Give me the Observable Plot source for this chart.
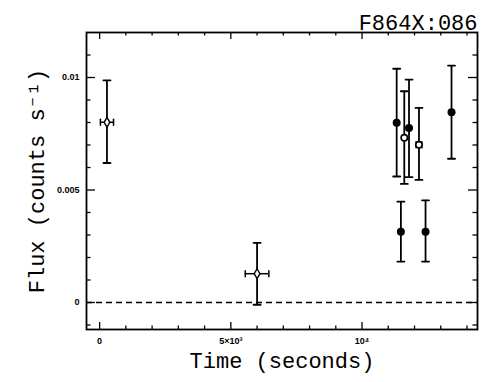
<!DOCTYPE html>
<html>
<head>
<meta charset="utf-8">
<script src="https://cdn.jsdelivr.net/npm/d3@7"></script>
<script src="https://cdn.jsdelivr.net/npm/@observablehq/plot@0.6"></script>
<style>
  html, body { margin: 0; padding: 0; background: #fff; }
</style>
</head>
<body>
<div id="chart"></div>
<script>
// ---- data ----
const title = "F864X:086";
const time      = [280, 6000, 11320, 11610, 11790, 12170, 13410, 11480, 12420];
const timeErr   = [250, 450, 0, 0, 0, 110, 0, 0, 0];
const flux      = [0.00801, 0.00128, 0.00799, 0.00732, 0.00776, 0.00701, 0.00846, 0.00314, 0.00314];
const fluxLo    = [0.00620, -0.00010, 0.00560, 0.00527, 0.00557, 0.00545, 0.00639, 0.00182, 0.00182];
const fluxHi    = [0.00987, 0.00265, 0.01039, 0.00939, 0.00991, 0.00865, 0.01053, 0.00448, 0.00454];
const marker    = ["diamond", "diamond", "filled", "open", "filled", "open", "filled", "filled", "filled"];

const xMajorTicks = [0, 5000, 10000];
const xTickLabels = ["0", "5×10³", "10⁴"];
const xMinorTicks = [1000, 2000, 3000, 4000, 6000, 7000, 8000, 9000, 11000, 12000, 13000, 14000];
const yMajorTicks = [0, 0.005, 0.01];
const yTickLabels = ["0", "0.005", "0.01"];
const yMinorTicks = [-0.001, 0.001, 0.002, 0.003, 0.004, 0.006, 0.007, 0.008, 0.009, 0.011];
const xDomain = [-500, 14400];
const yDomain = [-0.0012, 0.012];
const xLabel = "Time (seconds)";
const yLabel = "Flux (counts s⁻¹)";

// ---- table built from arrays ----
const data = time.map((t, i) => ({
  t, te: timeErr[i], f: flux[i], lo: fluxLo[i], hi: fluxHi[i], m: marker[i]
}));
const xerr = data.filter(d => d.te > 0);

const W = 484, H = 382;
const mL = 86, mR = 7, mT = 32, mB = 53;
const pW = W - mL - mR, pH = H - mT - mB;

const lineShape = { draw(ctx, l) { ctx.moveTo(0, 0); ctx.lineTo(0, -l); } };
const capLen = 7;

const labelFont = "'Liberation Mono', 'DejaVu Sans Mono', monospace";
const sans = "'Liberation Sans', Arial, sans-serif";

const chart = Plot.plot({
  width: W, height: H,
  marginLeft: mL, marginRight: mR, marginTop: mT, marginBottom: mB,
  x: { domain: xDomain, axis: null },
  y: { domain: yDomain, axis: null },
  style: { background: "#fff", color: "#000" },
  marks: [
    // zero line
    Plot.ruleY([0], { stroke: "#000", strokeWidth: 1.3, strokeDasharray: "6,4" }),
    // ticks, inward, all four sides
    Plot.ruleX(xMajorTicks, { x: d => d, insetTop: pH - 7, strokeWidth: 1.3 }),
    Plot.ruleX(xMajorTicks, { x: d => d, insetBottom: pH - 7, strokeWidth: 1.3 }),
    Plot.ruleX(xMinorTicks, { x: d => d, insetTop: pH - 3.5, strokeWidth: 1.3 }),
    Plot.ruleX(xMinorTicks, { x: d => d, insetBottom: pH - 3.5, strokeWidth: 1.3 }),
    Plot.ruleY(yMajorTicks, { y: d => d, insetRight: pW - 9, strokeWidth: 1.3 }),
    Plot.ruleY(yMajorTicks, { y: d => d, insetLeft: pW - 9, strokeWidth: 1.3 }),
    Plot.ruleY(yMinorTicks, { y: d => d, insetRight: pW - 4.5, strokeWidth: 1.3 }),
    Plot.ruleY(yMinorTicks, { y: d => d, insetLeft: pW - 4.5, strokeWidth: 1.3 }),
    // tick labels
    Plot.text(xMajorTicks, { x: d => d, frameAnchor: "bottom", lineAnchor: "middle", dy: 12, text: (d, i) => xTickLabels[i],
      fontFamily: sans, fontWeight: "bold", fontSize: 9, fill: "#000" }),
    Plot.text(yMajorTicks, { y: d => d, frameAnchor: "left", dx: -7, textAnchor: "end", text: (d, i) => yTickLabels[i],
      fontFamily: sans, fontWeight: "bold", fontSize: 9, fill: "#000" }),
    // frame
    Plot.frame({ stroke: "#000", strokeWidth: 1.8 }),
    // vertical error bars
    Plot.ruleX(data, { x: "t", y1: "lo", y2: "hi", stroke: "#000", strokeWidth: 1.8 }),
    Plot.vector(data, { x: "t", y: "lo", rotate: 90, length: capLen, anchor: "middle", shape: lineShape, stroke: "#000", strokeWidth: 1.8 }),
    Plot.vector(data, { x: "t", y: "hi", rotate: 90, length: capLen, anchor: "middle", shape: lineShape, stroke: "#000", strokeWidth: 1.8 }),
    // horizontal error bars
    Plot.ruleY(xerr, { y: "f", x1: d => d.t - d.te, x2: d => d.t + d.te, stroke: "#000", strokeWidth: 1.5 }),
    Plot.vector(xerr, { x: d => d.t - d.te, y: "f", rotate: 0, length: 6, anchor: "middle", shape: lineShape, stroke: "#000", strokeWidth: 1.5 }),
    Plot.vector(xerr, { x: d => d.t + d.te, y: "f", rotate: 0, length: 6, anchor: "middle", shape: lineShape, stroke: "#000", strokeWidth: 1.5 }),
    // markers
    Plot.dot(data.filter(d => d.m === "filled"), { x: "t", y: "f", r: 4, fill: "#000", stroke: "none" }),
    Plot.dot(data.filter(d => d.m === "open"), { x: "t", y: "f", r: 3.2, fill: "#fff", stroke: "#000", strokeWidth: 1.6 }),
    Plot.dot(data.filter(d => d.m === "diamond"), { x: "t", y: "f", r: 3, symbol: "diamond", fill: "#fff", stroke: "#000", strokeWidth: 1.4 }),
    // axis labels
    Plot.text([xLabel], { frameAnchor: "bottom", lineAnchor: "bottom", textAnchor: "middle", dy: 38, text: d => d,
      fontFamily: labelFont, fontSize: 22, fill: "#000" }),
    Plot.text([yLabel], { frameAnchor: "left", lineAnchor: "middle", textAnchor: "middle", dx: -50, rotate: -90, text: d => d,
      fontFamily: labelFont, fontSize: 22, fill: "#000" }),
    // title
    Plot.text([title], { frameAnchor: "top-right", dy: -3, lineAnchor: "bottom", textAnchor: "end", text: d => d,
      fontFamily: labelFont, fontSize: 22, fill: "#000" })
  ]
});
document.getElementById("chart").appendChild(chart);
</script>
</body>
</html>
